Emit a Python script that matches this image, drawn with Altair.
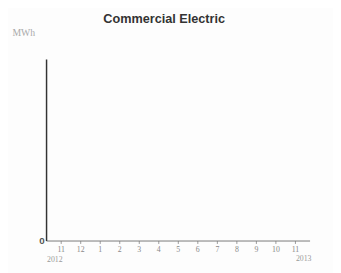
import altair as alt
import pandas as pd

months = ["2012-11", "2012-12", "2013-01", "2013-02", "2013-03", "2013-04", "2013-05",
          "2013-06", "2013-07", "2013-08", "2013-09", "2013-10", "2013-11"]
values = [None] * len(months)  # the reference plots no visible series
years = ["2012", "2013"]
year_months = ["2012-11", "2013-11"]
y_ticks = [0]

df = pd.DataFrame({"month": months, "mwh": values})
ydf = pd.DataFrame({"month": year_months, "year": years})

W, H = 270, 186

xscale = alt.Scale(domain=months, type="point", padding=0.75)

line = alt.Chart(df).mark_line(color="#444").encode(
    x=alt.X("month:O", scale=xscale, sort=months,
            axis=alt.Axis(title=None, labelAngle=0, labelFontSize=8, labelColor="#888",
                          labelFont="Liberation Serif", tickColor="#999", tickSize=3,
                          domainColor="#777", labelPadding=2, grid=False,
                          labelExpr="toNumber(split(datum.value,'-')[1]) + ''")),
    y=alt.Y("mwh:Q", scale=alt.Scale(domain=[0, 1]),
            axis=alt.Axis(values=y_ticks, title="MWh", titleAngle=0, titleAlign="left",
                          titleX=-35, titleY=-22, titleFontSize=10, titleFontWeight="normal",
                          titleFont="Liberation Serif", titleColor="#aaa",
                          labelFontSize=10, labelFontWeight="bold", labelColor="#555",
                          domainColor="#333", domainWidth=1.5, tickSize=0, grid=False)),
)

yr_first = alt.Chart(ydf).transform_filter(alt.datum.year == years[0]).mark_text(
    fontSize=8, color="#999", font="Liberation Serif", align="center", dx=-6).encode(
    x=alt.X("month:O", scale=xscale, sort=months),
    y=alt.value(H + 20),
    text="year:N",
)
yr_last = alt.Chart(ydf).transform_filter(alt.datum.year == years[1]).mark_text(
    fontSize=8, color="#999", font="Liberation Serif", align="left", dx=1).encode(
    x=alt.X("month:O", scale=xscale, sort=months),
    y=alt.value(H + 19),
    text="year:N",
)

chart = alt.layer(line, yr_first, yr_last).properties(
    width=W, height=H,
    title=alt.TitleParams("Commercial Electric", fontSize=13, fontWeight="bold",
                          font="Liberation Sans", color="#333", offset=2, dx=-14),
    autosize=alt.AutoSizeParams(type="none"),
    padding={"left": 39, "top": 49, "right": 24, "bottom": 30},
).configure(background="#fdfdfd", view=alt.ViewConfig(stroke=None))

chart.save("out.html", embed_options={"renderer": "svg", "actions": False})
